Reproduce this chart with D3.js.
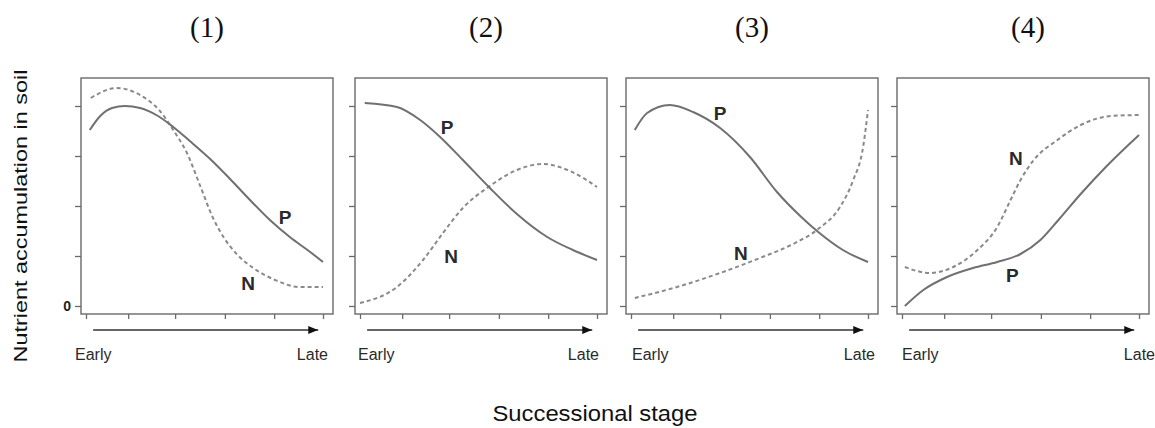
<!DOCTYPE html>
<html>
<head>
<meta charset="utf-8">
<script src="https://cdn.jsdelivr.net/npm/d3@7"></script>
<style>
  html, body { margin: 0; padding: 0; background: #fff; }
  svg { display: block; }
</style>
</head>
<body>
<svg id="chart" width="1155" height="428"></svg>
<script>
// ---------------- data ----------------
const panelTitles = ["(1)", "(2)", "(3)", "(4)"];
const xTicks = [0, 0.89, 1.88, 2.93, 3.97, 5];
const yTicks = [0, 1, 2, 3, 4];
const yTickLabels = ["0", "", "", "", ""];
const xEndLabels = ["Early", "Late"];
const yTitle = "Nutrient accumulation in soil";
const xTitle = "Successional stage";

// panel (1)
const p1P = [[0.08,3.52],[0.3,3.8],[0.55,3.96],[0.82,4.0],[1.14,3.96],[1.52,3.8],[1.84,3.58],[2.19,3.3],[2.62,2.94],[3.04,2.54],[3.46,2.12],[3.88,1.72],[4.3,1.38],[4.73,1.08],[5.0,0.88]];
const p1N = [[0.1,4.16],[0.65,4.36],[1.14,4.22],[1.56,3.9],[1.84,3.52],[2.13,3.06],[2.41,2.4],[2.68,1.76],[2.9,1.38],[3.2,1.02],[3.56,0.74],[3.99,0.52],[4.51,0.38],[5.0,0.38]];
// panel (2)
const p2P = [[0.1,4.06],[0.78,3.98],[1.27,3.72],[1.69,3.38],[2.17,2.92],[2.74,2.36],[3.31,1.84],[3.95,1.38],[4.49,1.12],[5.0,0.92]];
const p2N = [[0.0,0.06],[0.78,0.38],[1.33,0.92],[1.75,1.46],[2.17,1.96],[2.74,2.4],[3.31,2.72],[3.86,2.84],[4.43,2.7],[5.0,2.38]];
// panel (3)
const p3P = [[0.08,3.52],[0.34,3.86],[0.82,4.02],[1.31,3.88],[1.88,3.56],[2.51,2.98],[3.08,2.28],[3.57,1.8],[3.95,1.48],[4.47,1.12],[5.0,0.88]];
const p3N = [[0.08,0.16],[0.97,0.38],[1.88,0.66],[2.72,0.96],[3.42,1.24],[3.95,1.54],[4.41,1.98],[4.68,2.5],[4.9,3.2],[5.0,3.92]];
// panel (4)
const p4P = [[0.06,0.0],[0.45,0.32],[0.95,0.58],[1.5,0.76],[2.01,0.88],[2.5,1.04],[2.92,1.32],[3.3,1.72],[3.77,2.24],[4.3,2.78],[5.0,3.42]];
const p4N = [[0.06,0.78],[0.59,0.66],[1.08,0.78],[1.59,1.12],[2.01,1.58],[2.29,2.12],[2.5,2.52],[2.78,2.92],[3.28,3.32],[3.77,3.62],[4.41,3.8],[5.0,3.82]];

// curve label positions (data units) : [x, y]
const pLabelPos = [[4.2,1.78],[1.84,3.58],[1.88,3.86],[2.33,0.62]];
const nLabelPos = [[3.42,0.46],[1.92,1.0],[2.32,1.06],[2.4,2.96]];

const seriesP = [p1P, p2P, p3P, p4P];
const seriesN = [p1N, p2N, p3N, p4N];

// ---------------- layout ----------------
const panelLefts = [81, 355, 626, 897];
const earlyOffsets = [-6, 3, 6, 5];
const lateOffsets = [247, 244, 249, 258];
const titleOffsets = [0, 5, 0, 5];
const boxW = 252, boxTop = 78, boxBottom = 314;

const svg = d3.select("#chart");
const defs = svg.append("defs");
defs.append("marker")
  .attr("id", "arrowhead")
  .attr("viewBox", "0 0 10 8")
  .attr("refX", 10).attr("refY", 4)
  .attr("markerWidth", 10).attr("markerHeight", 8)
  .attr("markerUnits", "userSpaceOnUse")
  .attr("orient", "auto")
  .append("path").attr("d", "M0,0 L10,4 L0,8 Z").attr("fill", "#111");

const y = d3.scaleLinear().domain([0, 4]).range([306, 106]);

const lineGen = (x) => d3.line()
  .x(d => x(d[0])).y(d => y(d[1]))
  .curve(d3.curveMonotoneX);

panelTitles.forEach((title, i) => {
  const left = panelLefts[i];
  const x = d3.scaleLinear().domain([0, 5]).range([left + 5, left + 242]);
  const g = svg.append("g");

  // frame
  g.append("rect")
    .attr("x", left).attr("y", boxTop)
    .attr("width", boxW).attr("height", boxBottom - boxTop)
    .attr("fill", "none").attr("stroke", "#6a6a6a").attr("stroke-width", 1.4);

  // y axis ticks
  const yAxis = d3.axisLeft(y).tickValues(yTicks).tickSize(6)
    .tickFormat((d, k) => i === 0 ? yTickLabels[k] : "");
  const ya = g.append("g").attr("transform", `translate(${left},0)`).call(yAxis);
  ya.select(".domain").remove();
  ya.selectAll(".tick line").attr("stroke", "#6a6a6a").attr("stroke-width", 1.3);
  ya.selectAll(".tick text").attr("font-family", "Liberation Sans, Arial, sans-serif")
    .attr("font-size", 14).attr("font-weight", "bold").attr("fill", "#222").attr("x", -10);

  // x axis ticks
  const xAxis = d3.axisBottom(x).tickValues(xTicks).tickSize(5).tickFormat("");
  const xa = g.append("g").attr("transform", `translate(0,${boxBottom})`).call(xAxis);
  xa.select(".domain").remove();
  xa.selectAll(".tick line").attr("stroke", "#6a6a6a").attr("stroke-width", 1.3);

  // arrow
  g.append("line")
    .attr("x1", x(0.15)).attr("x2", x(4.9))
    .attr("y1", 330).attr("y2", 330)
    .attr("stroke", "#333").attr("stroke-width", 1.4)
    .attr("marker-end", "url(#arrowhead)");

  // Early / Late
  g.append("text").attr("x", left + earlyOffsets[i]).attr("y", 360)
    .attr("font-family", "Liberation Sans, Arial, sans-serif").attr("font-size", 16)
    .attr("fill", "#2a2a2a").text(xEndLabels[0]);
  g.append("text").attr("x", left + lateOffsets[i]).attr("y", 360).attr("text-anchor", "end")
    .attr("font-family", "Liberation Sans, Arial, sans-serif").attr("font-size", 16)
    .attr("fill", "#2a2a2a").text(xEndLabels[1]);

  // panel title
  g.append("text").attr("x", left + boxW / 2 + titleOffsets[i]).attr("y", 37)
    .attr("text-anchor", "middle")
    .attr("font-family", "Liberation Serif, Times New Roman, serif").attr("font-size", 29)
    .attr("fill", "#111").text(title);

  // curves
  g.append("path").datum(seriesN[i])
    .attr("d", lineGen(x))
    .attr("fill", "none").attr("stroke", "#8a8a8a").attr("stroke-width", 2)
    .attr("stroke-dasharray", "4,3");
  g.append("path").datum(seriesP[i])
    .attr("d", lineGen(x))
    .attr("fill", "none").attr("stroke", "#707070").attr("stroke-width", 2);

  // labels
  g.append("text").attr("x", x(pLabelPos[i][0])).attr("y", y(pLabelPos[i][1]))
    .attr("text-anchor", "middle").attr("dominant-baseline", "central")
    .attr("font-family", "Liberation Sans, Arial, sans-serif").attr("font-size", 19)
    .attr("font-weight", "bold").attr("fill", "#2a2a2a").text("P");
  g.append("text").attr("x", x(nLabelPos[i][0])).attr("y", y(nLabelPos[i][1]))
    .attr("text-anchor", "middle").attr("dominant-baseline", "central")
    .attr("font-family", "Liberation Sans, Arial, sans-serif").attr("font-size", 19)
    .attr("font-weight", "bold").attr("fill", "#2a2a2a").text("N");
});

// axis titles
svg.append("text")
  .attr("transform", "translate(27,216) rotate(-90)")
  .attr("text-anchor", "middle")
  .attr("font-family", "Liberation Sans, Arial, sans-serif").attr("font-size", 19)
  .attr("textLength", 293).attr("lengthAdjust", "spacingAndGlyphs")
  .attr("fill", "#111").text(yTitle);

svg.append("text")
  .attr("x", 595).attr("y", 421).attr("text-anchor", "middle")
  .attr("font-family", "Liberation Sans, Arial, sans-serif").attr("font-size", 22)
  .attr("textLength", 205).attr("lengthAdjust", "spacingAndGlyphs")
  .attr("fill", "#111").text(xTitle);
</script>
</body>
</html>
